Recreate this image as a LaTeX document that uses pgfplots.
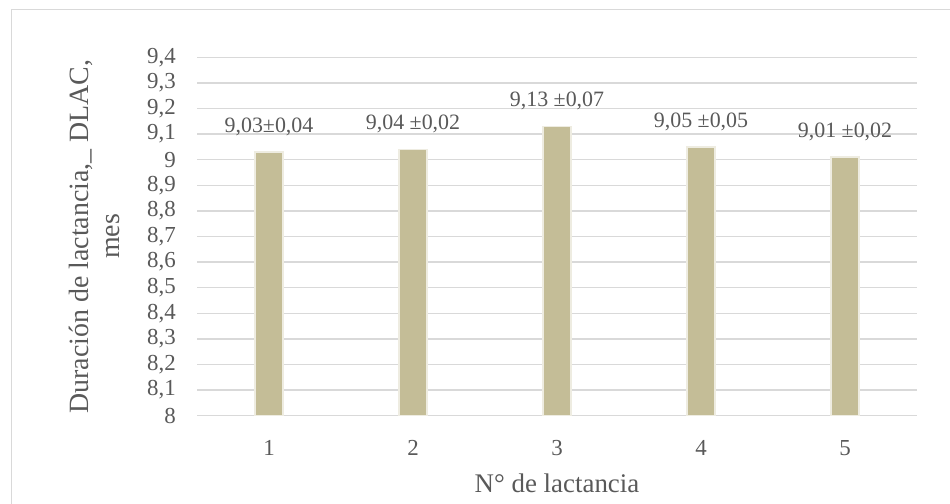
\documentclass[border=0pt]{standalone}
\usepackage{fontspec}
\setmainfont{Liberation Serif}
\usepackage{pgfplots}
\pgfplotsset{compat=1.18}

\definecolor{bartan}{HTML}{C4BD97}
\definecolor{baredge}{HTML}{EEECE1}
\definecolor{gridgray}{HTML}{D9D9D9}
\definecolor{txtgray}{HTML}{595959}

\begin{document}
\begin{tikzpicture}[x=1bp,y=1bp]
\useasboundingbox (0,0) rectangle (950,504);
% chart frame
\draw[gridgray, line width=1.2bp] (11.5,-20) -- (11.5,494.3) -- (980,494.3);
\begin{axis}[
  at={(197bp,88.3bp)}, anchor=south west,
  width=720bp, height=358.4bp, scale only axis,
  xmin=0.5, xmax=5.5, ymin=8, ymax=9.4,
  xtick={1,2,3,4,5},
  ytick={8,8.1,8.2,8.3,8.4,8.5,8.6,8.7,8.8,8.9,9,9.1,9.2,9.3,9.4},
  ymajorgrids,
  grid style={gridgray, line width=1.3bp},
  axis line style={draw=none},
  major tick length=0pt,
  clip=false,
  /pgf/number format/.cd, use comma, fixed, precision=1, assume math mode=true,
  /pgfplots/.cd,
  tick label style={font=\fontsize{23}{26}\selectfont, text=txtgray, inner sep=0pt},
  yticklabel style={anchor=east, xshift=-21bp},
  xticklabel style={anchor=base, yshift=-40bp},
  xlabel={N° de lactancia},
  xlabel style={at={(axis description cs:0.5,0)}, anchor=base, yshift=-77.3bp,
    inner sep=0pt, font=\fontsize{27}{30}\selectfont, text=txtgray},
  ylabel={Duración de lactancia,\_ DLAC,\\[6bp]mes},
  ylabel style={at={(axis description cs:-0.142,0.5)}, anchor=center, rotate=0,
    align=center, inner sep=0pt, font=\fontsize{28}{25}\selectfont, text=txtgray},
  ybar, bar width=28bp, /pgf/bar shift=0pt,
  point meta=explicit symbolic,
  nodes near coords={\pgfplotspointmeta},
  every node near coord/.append style={anchor=base, yshift=19.5bp, inner sep=0pt,
    font=\fontsize{22}{26}\selectfont, text=txtgray},
]
\addplot[fill=bartan, draw=baredge, line width=1.5bp] coordinates {
  (1,9.03) [9,03±0,04]
  (2,9.04) [9,04 ±0,02]
  (3,9.13) [9,13 ±0,07]
  (4,9.05) [9,05 ±0,05]
  (5,9.01) [9,01 ±0,02]
};
\end{axis}
\end{tikzpicture}
\end{document}
